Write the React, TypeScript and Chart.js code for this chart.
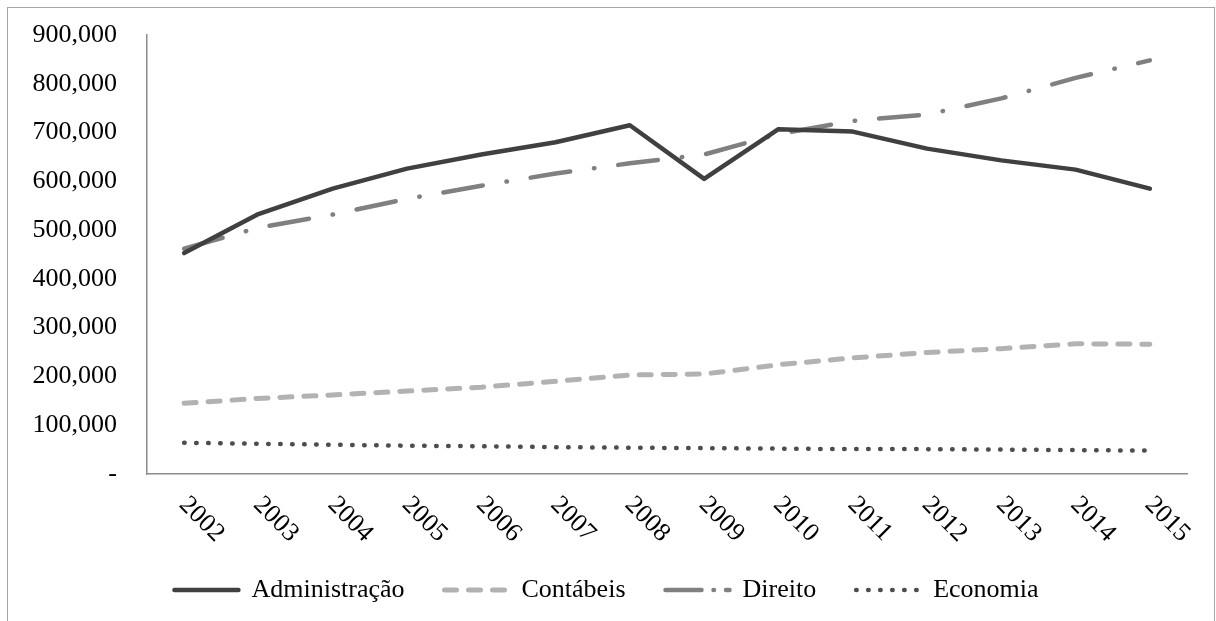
import React, { useEffect, useRef } from 'react';
import { Chart, registerables } from 'chart.js';

Chart.register(...registerables);

const years = ['2002', '2003', '2004', '2005', '2006', '2007', '2008', '2009', '2010', '2011', '2012', '2013', '2014', '2015'];
const administracao = [453000, 533000, 585000, 626000, 655000, 680000, 715000, 605000, 707000, 702000, 667000, 643000, 624000, 585000];
const contabeis = [145000, 155000, 162000, 170000, 178000, 190000, 203000, 205000, 224000, 238000, 249000, 257000, 267000, 266000];
const direito = [462000, 505000, 532000, 564000, 591000, 616000, 637000, 655000, 697000, 724000, 737000, 770000, 812000, 848000];
const economia = [64000, 62000, 60000, 58000, 57000, 55000, 54000, 53000, 52000, 51000, 51000, 50000, 49000, 48000];
const yTicks = [0, 100000, 200000, 300000, 400000, 500000, 600000, 700000, 800000, 900000];

const FONT = "'Liberation Serif', 'Times New Roman', serif";

const legendDash: Record<string, number[]> = {
  'Direito': [36, 12, 0.5, 12],
};

const rotatedXLabels = {
  id: 'rotatedXLabels',
  afterDraw(chart: any) {
    const xs = chart.scales.x;
    const ctx = chart.ctx;
    ctx.save();
    ctx.font = `26px ${FONT}`;
    ctx.fillStyle = '#000';
    ctx.textAlign = 'left';
    ctx.textBaseline = 'middle';
    (chart.data.labels as string[]).forEach((lab, i) => {
      const px = xs.getPixelForValue(i);
      ctx.save();
      ctx.translate(px - 1, xs.top + 27);
      ctx.rotate(Math.PI / 4);
      ctx.fillText(String(lab), 0, 0);
      ctx.restore();
    });
    ctx.restore();
  },
};

export default function App() {
  const ref = useRef<HTMLCanvasElement | null>(null);

  useEffect(() => {
    if (!ref.current) return;
    const chart = new Chart(ref.current, {
      type: 'line',
      data: {
        labels: years,
        datasets: [
          {
            label: 'Administração',
            data: administracao,
            borderColor: '#404040',
            backgroundColor: '#404040',
            borderWidth: 4.5,
            borderCapStyle: 'round',
            borderJoinStyle: 'round',
            pointRadius: 0,
            tension: 0,
          },
          {
            label: 'Contábeis',
            data: contabeis,
            borderColor: '#b2b2b2',
            backgroundColor: '#b2b2b2',
            borderWidth: 5,
            borderDash: [12, 12],
            borderCapStyle: 'round',
            borderJoinStyle: 'round',
            pointRadius: 0,
            tension: 0,
          },
          {
            label: 'Direito',
            data: direito,
            borderColor: '#808080',
            backgroundColor: '#808080',
            borderWidth: 4.5,
            borderDash: [40, 24, 0.5, 24],
            borderCapStyle: 'round',
            borderJoinStyle: 'round',
            pointRadius: 0,
            tension: 0,
          },
          {
            label: 'Economia',
            data: economia,
            borderColor: '#4d4d4d',
            backgroundColor: '#4d4d4d',
            borderWidth: 4.5,
            borderDash: [0.5, 11.5],
            borderCapStyle: 'round',
            borderJoinStyle: 'round',
            pointRadius: 0,
            tension: 0,
          },
        ],
      },
      options: {
        responsive: false,
        animation: false,
        layout: { padding: { left: 26, top: 35, right: 29, bottom: 8 } },
        plugins: {
          title: { display: false },
          tooltip: { enabled: false },
          legend: {
            display: true,
            position: 'bottom',
            labels: {
              usePointStyle: true,
              pointStyle: 'line',
              pointStyleWidth: 64,
              boxWidth: 64,
              padding: 40,
              color: '#000',
              font: { family: FONT, size: 26 },
              generateLabels: (ch: any) =>
                ch.data.datasets.map((ds: any, i: number) => ({
                  text: ds.label,
                  datasetIndex: i,
                  fillStyle: ds.borderColor,
                  strokeStyle: ds.borderColor,
                  lineWidth: ds.borderWidth,
                  lineDash: legendDash[ds.label] || ds.borderDash || [],
                  lineDashOffset: 0,
                  lineCap: ds.borderCapStyle,
                  lineJoin: 'round',
                  pointStyle: 'line',
                  fontColor: '#000',
                  hidden: false,
                })),
            },
          },
        },
        scales: {
          x: {
            type: 'category',
            offset: true,
            grid: { display: false, drawTicks: false },
            border: { display: true, color: '#8c8c8c', width: 1.5 },
            ticks: { display: false },
            afterFit: (s: any) => { s.height = 63; },
          },
          y: {
            min: 0,
            max: 900000,
            grid: { display: false, drawTicks: true, tickLength: 30 },
            border: { display: true, color: '#8c8c8c', width: 1.5 },
            afterFit: (s: any) => { s.width = 121; },
            afterBuildTicks: (s: any) => { s.ticks = yTicks.map((v) => ({ value: v })); },
            ticks: {
              padding: 0,
              color: '#000',
              font: { family: FONT, size: 26 },
              callback: (v: any) => (Number(v) === 0 ? '-' : Number(v).toLocaleString('en-US')),
            },
          },
        },
      },
      plugins: [rotatedXLabels],
    });
    return () => chart.destroy();
  }, []);

  return (
    <div style={{ position: 'fixed', left: 0, top: 0, width: 1216, height: 621, overflow: 'hidden', background: '#fff' }}>
      <div
        style={{
          position: 'absolute',
          left: 7,
          top: 7,
          width: 1208,
          height: 700,
          boxSizing: 'border-box',
          borderLeft: '1px solid #a6a6a6',
          borderTop: '1px solid #a6a6a6',
          borderRight: '1px solid #a6a6a6',
        }}
      />
      <canvas ref={ref} width={1216} height={621} style={{ position: 'absolute', left: 0, top: 0, width: 1216, height: 621 }} />
    </div>
  );
}
